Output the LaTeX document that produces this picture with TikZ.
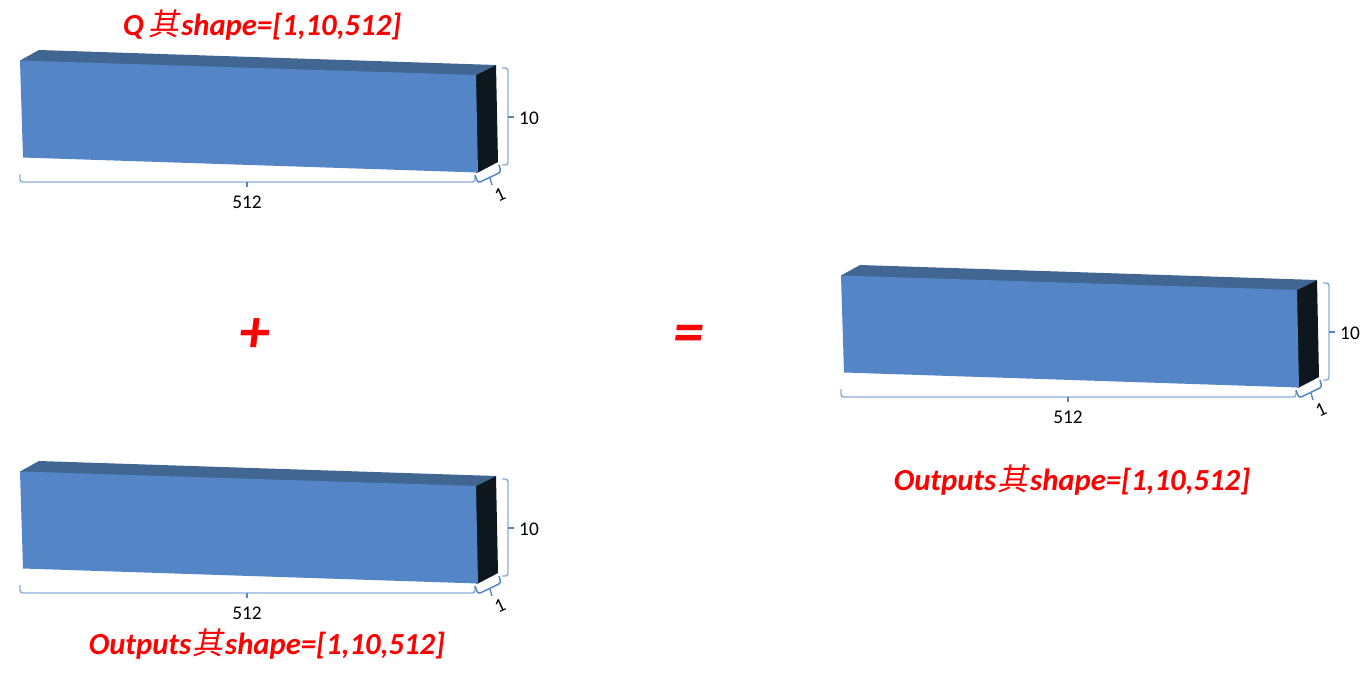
\documentclass[tikz,border=0pt]{standalone}
\usepackage{fontspec}
\setmainfont{Carlito}
\newfontfamily\cjkfont[FakeSlant=0.2]{Noto Sans CJK SC}
\definecolor{frontc}{HTML}{5486C7}
\definecolor{topc}{HTML}{426692}
\definecolor{sidec}{HTML}{0E161E}
\definecolor{bracec}{HTML}{8DAEd6}
\definecolor{redc}{HTML}{FF0000}
\tikzset{
  frontface/.style={fill=frontc,draw=none},
  topface/.style={fill=topc,draw=none},
  sideface/.style={fill=sidec,draw=none},
  bracket/.style={draw=bracec,line width=1.1pt,rounded corners=2pt},
  ticket/.style={draw=frontc,line width=1pt},
  dimlabel/.style={font=\fontsize{14.5}{16}\selectfont,text=black,inner sep=0pt},
  caption/.style={font=\fontsize{23}{27}\selectfont\bfseries\itshape,text=redc,inner sep=0pt},
  opsign/.style={font=\fontsize{46}{50}\selectfont\bfseries\itshape,text=redc,inner sep=0pt}
}
\newcommand{\solidbox}[3]{%
\begin{scope}[shift={(#2,#3)}]
  \fill[topface] (20,60.5) -- (39,50) -- (496,65) -- (476,75) -- (476,77) -- (20,62.5) -- cycle;
  \fill[sideface] (476,75) -- (496,65) -- (498,162) -- (478,172.5) -- (476,172.5) -- (474,75) -- cycle;
  \fill[frontface] (20,60.5) -- (476,75) -- (478,172.5) -- (23,157.5) -- cycle;
  \draw[bracket] (502,68) -- (508,68) -- (508,165) -- (502,165);
  \draw[ticket] (508,117) -- (514,117);
  \node[dimlabel] (#1h) at (529,118.5) {10};
  \draw[bracket] (20,174) -- (20,182) -- (475,182) -- (475,176);
  \draw[ticket] (247,182) -- (247,187);
  \node[dimlabel] (#1w) at (247,202.5) {512};
  \draw[bracket,draw=frontc] (475,175) -- (478,183) -- (501,172) -- (499,165);
  \draw[ticket] (490,178) -- (492,185);
  \node[dimlabel,rotate=25] (#1d) at (500,195) {1};
\end{scope}}
\newcommand{\hz}{{\cjkfont\fontseries{m}\selectfont 其}\kern1.5pt}
\begin{document}
\begin{tikzpicture}[x=0.75pt,y=-0.75pt]
\useasboundingbox (0,0) rectangle (1368,672);
\fill[white] (0,0) rectangle (1368,672);
\solidbox{a}{0}{0}
\solidbox{b}{0}{411}
\solidbox{c}{821}{215}
\node[caption] (qcap) at (262,25) {Q\,\hz shape=[1,10,512]};
\node[caption] (ocapb) at (267,644) {Outputs\kern1pt\hz shape=[1,10,512]};
\node[caption] (ocapc) at (1072,480) {Outputs\kern1pt\hz shape=[1,10,512]};
\node[opsign] (plus) at (255,336) {+};
\node[opsign] (equal) at (689,339) {=};
\end{tikzpicture}
\end{document}
